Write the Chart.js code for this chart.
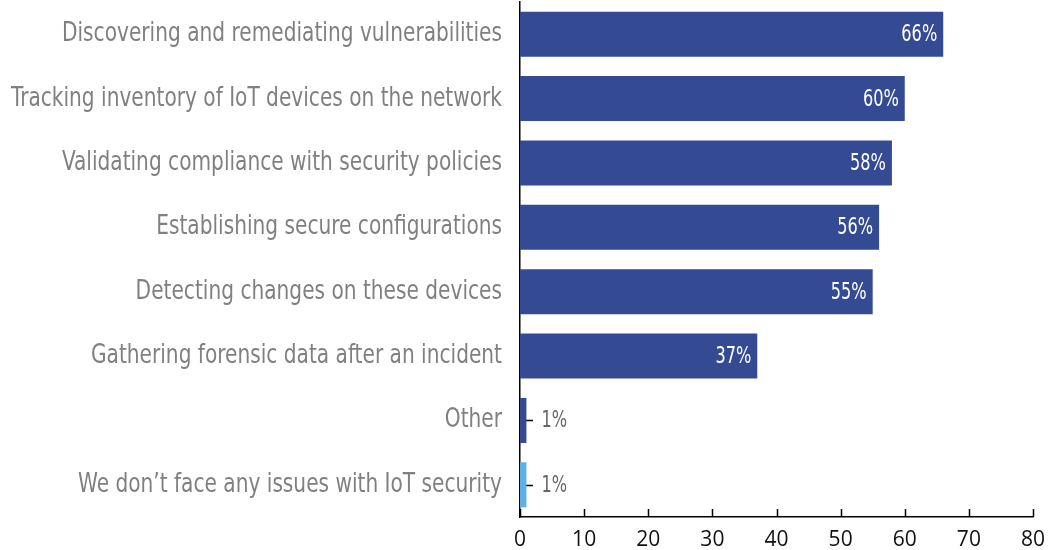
<!DOCTYPE html>
<html>
<head>
<meta charset="utf-8">
<script src="https://cdn.jsdelivr.net/npm/chart.js@4"></script>
<style>
  html, body { margin: 0; background: #fff; }
  #wrap { width: 1049px; height: 550px; position: relative; }
</style>
</head>
<body>
<div id="wrap"><canvas id="chart"></canvas></div>
<script>
const categories = [
  'Discovering and remediating vulnerabilities',
  'Tracking inventory of IoT devices on the network',
  'Validating compliance with security policies',
  'Establishing secure configurations',
  'Detecting changes on these devices',
  'Gathering forensic data after an incident',
  'Other',
  'We don\u2019t face any issues with IoT security'
];
const values = [66, 60, 58, 56, 55, 37, 1, 1];
const valueLabels = ['66%', '60%', '58%', '56%', '55%', '37%', '1%', '1%'];
const xTickValues = [0, 10, 20, 30, 40, 50, 60, 70, 80];

const DARK = '#344b93';
const LIGHT = '#5fb0e4';
const condensed = '"DejaVu Sans Condensed", "Liberation Sans Narrow", sans-serif';

// squeeze text horizontally so it reads like a narrow display face
function narrowText(ctx, txt, x, y, sx, align) {
  ctx.save();
  ctx.translate(x, y);
  ctx.scale(sx, 1);
  ctx.textAlign = align;
  ctx.fillText(txt, 0, 0);
  ctx.restore();
}

// short tick marks pointing into the plot, drawn underneath the bars
const innerTicks = {
  id: 'innerTicks',
  beforeDatasetsDraw(chart) {
    const { ctx, scales: { x, y } } = chart;
    ctx.save();
    ctx.strokeStyle = '#000';
    ctx.lineWidth = 1.5;
    ctx.beginPath();
    xTickValues.forEach(v => {
      const px = Math.round(x.getPixelForValue(v)) + 0.5;
      ctx.moveTo(px, y.bottom);
      ctx.lineTo(px, y.bottom - 8);
    });
    categories.forEach((c, i) => {
      const py = Math.round(y.getPixelForValue(i)) + 0.5;
      ctx.moveTo(x.left, py);
      ctx.lineTo(x.left + 13, py);
    });
    ctx.stroke();
    ctx.restore();
  }
};

// category names on the left, right-aligned against the axis
const categoryLabels = {
  id: 'categoryLabels',
  afterDraw(chart) {
    const { ctx, scales: { y } } = chart;
    ctx.save();
    ctx.font = '27px ' + condensed;
    ctx.fillStyle = '#808080';
    ctx.textBaseline = 'middle';
    const sx = 440 / ctx.measureText(categories[0]).width;
    categories.forEach((c, i) => {
      narrowText(ctx, c, y.right - 18, y.getPixelForValue(i), sx, 'right');
    });
    ctx.restore();
  }
};

// value labels: inside the bar end when it fits, otherwise just past it
const barLabels = {
  id: 'barLabels',
  afterDatasetsDraw(chart) {
    const { ctx } = chart;
    const meta = chart.getDatasetMeta(0);
    ctx.save();
    ctx.font = '23px ' + condensed;
    ctx.textBaseline = 'middle';
    meta.data.forEach((bar, i) => {
      if (values[i] > 10) {
        ctx.fillStyle = '#fff';
        narrowText(ctx, valueLabels[i], bar.x - 6, bar.y + 1, 0.78, 'right');
      } else {
        ctx.fillStyle = '#666';
        narrowText(ctx, valueLabels[i], bar.x + 15, bar.y + 1, 0.78, 'left');
      }
    });
    ctx.restore();
  }
};

new Chart(document.getElementById('chart'), {
  type: 'bar',
  data: {
    labels: categories,
    datasets: [{
      data: values,
      backgroundColor: values.map((v, i) => i === values.length - 1 ? LIGHT : DARK),
      borderWidth: 0,
      categoryPercentage: 1,
      barPercentage: 0.7
    }]
  },
  options: {
    indexAxis: 'y',
    responsive: true,
    maintainAspectRatio: false,
    animation: false,
    layout: { padding: { top: 2, right: 16, left: 0, bottom: 0 } },
    plugins: {
      legend: { display: false },
      tooltip: { enabled: false }
    },
    scales: {
      x: {
        min: 0,
        max: 80,
        afterFit(scale) {
          scale.height = 33;
          scale.paddingLeft = 0;
          scale.paddingRight = 0;
        },
        ticks: {
          stepSize: 10,
          color: '#111',
          padding: 10,
          font: { family: '"Open Sans", sans-serif', size: 21 }
        },
        grid: { display: false, drawTicks: false },
        border: { display: true, color: '#000', width: 1.5 }
      },
      y: {
        afterFit(scale) { scale.width = 520; },
        ticks: { display: false },
        grid: { display: false, drawTicks: false },
        border: { display: true, color: '#000', width: 1.5 }
      }
    }
  },
  plugins: [innerTicks, categoryLabels, barLabels]
});
</script>
</body>
</html>
